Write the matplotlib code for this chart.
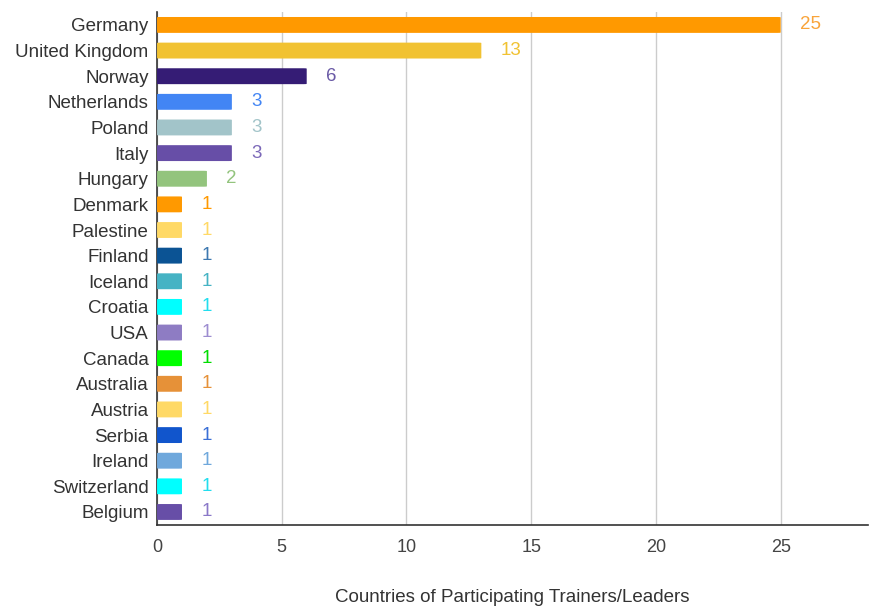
import matplotlib.pyplot as plt
from matplotlib.patches import FancyBboxPatch

countries = ['Germany', 'United Kingdom', 'Norway', 'Netherlands', 'Poland',
             'Italy', 'Hungary', 'Denmark', 'Palestine', 'Finland', 'Iceland',
             'Croatia', 'USA', 'Canada', 'Australia', 'Austria', 'Serbia',
             'Ireland', 'Switzerland', 'Belgium']
counts = [25, 13, 6, 3, 3, 3, 2, 1, 1, 1, 1, 1, 1, 1, 1, 1, 1, 1, 1, 1]
bar_colors = ['#ff9900', '#f1c232', '#351c75', '#4285f4', '#a2c4c9',
              '#674ea7', '#93c47d', '#ff9900', '#ffd966', '#0b5394', '#45b3c4',
              '#00ffff', '#8e7cc3', '#00ff00', '#e69138', '#ffd966', '#1155cc',
              '#6fa8dc', '#00ffff', '#674ea7']
label_colors = ['#f9a43a', '#f1c232', '#6a5aa6', '#4285f4', '#a2c4c9',
                '#7b68b8', '#93c47d', '#ff9900', '#ffd966', '#3d78b0', '#45b3c4',
                '#22ddee', '#9d8dd0', '#00dd00', '#e69138', '#ffd966', '#3a6fd6',
                '#6fa8dc', '#22ddee', '#8a78c8']

plt.rcParams['font.family'] = ['Liberation Sans', 'DejaVu Sans']

fig = plt.figure(figsize=(8.7, 6.06), dpi=100)
ax = fig.add_axes([0.1805, 0.134, 0.8172, 0.846])

n = len(countries)
ypos = list(range(n))
bar_h = 0.62
for i, (y, v, c) in enumerate(zip(ypos, counts, bar_colors)):
    ax.add_patch(FancyBboxPatch((0, y - bar_h / 2), v, bar_h,
                                boxstyle='round,pad=0,rounding_size=0.12',
                                mutation_aspect=1.0 / 9,
                                facecolor=c, edgecolor='none', zorder=3))
    ax.annotate(str(v), (v, y), xytext=(14, 0), textcoords='offset points',
                va='center', ha='left', fontsize=13.5, color=label_colors[i])

ax.set_xlim(0, 28.5)
ax.set_ylim(n - 0.5, -0.5)
ax.set_yticks(ypos)
ax.set_yticklabels(countries, fontsize=13.5, color='#333333')
ax.set_xticks([0, 5, 10, 15, 20, 25])
ax.tick_params(axis='x', labelsize=13, colors='#444444', length=0, pad=10)
ax.tick_params(axis='y', length=0, pad=6)
ax.grid(axis='x', color='#cccccc', linewidth=1, zorder=0)
for s in ['top', 'right']:
    ax.spines[s].set_visible(False)
for s in ['left', 'bottom']:
    ax.spines[s].set_color('#333333')
    ax.spines[s].set_linewidth(1.2)
ax.set_xlabel('Countries of Participating Trainers/Leaders', fontsize=13.5,
              color='#333333', labelpad=24)

fig.savefig('out.png', dpi=100)
